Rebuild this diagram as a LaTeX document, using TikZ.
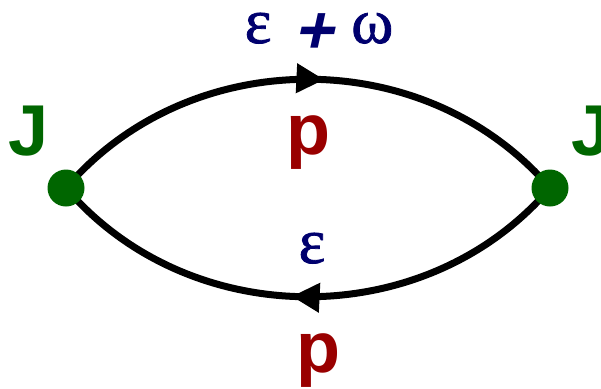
\documentclass[tikz,border=0pt]{standalone}
\usepackage{fontspec}
\setmainfont{Liberation Sans}
\newfontfamily\greekfont[FakeBold=1.2]{Liberation Serif}
\newfontfamily\plusfont[FakeSlant=0.22]{Liberation Sans Bold}
\usetikzlibrary{arrows.meta,decorations.markings}
\definecolor{jgreen}{RGB}{0,102,0}
\definecolor{navyb}{RGB}{0,0,110}
\definecolor{pred}{RGB}{153,0,0}
\tikzset{
  prop/.style={line width=7pt,
    postaction={decorate},
    decoration={markings,mark=at position 0.53 with {\arrow{Triangle[length=28pt,width=28pt]}}}},
  vertex/.style={circle,fill=jgreen,minimum size=37pt,inner sep=0pt},
  jlab/.style={text=jgreen,font=\fontsize{72}{72}\selectfont\bfseries,anchor=base,inner sep=0pt},
  plab/.style={text=pred,font=\fontsize{72}{72}\selectfont\bfseries,anchor=base,inner sep=0pt},
  elab/.style={text=navyb,font=\fontsize{64}{64}\selectfont\greekfont,anchor=base,inner sep=0pt,
    text height=31pt,text depth=1pt}
}
\begin{document}
\begin{tikzpicture}[x=1pt,y=-1pt]
\useasboundingbox (0,0) rectangle (601,388);
\coordinate (L) at (66,188);
\coordinate (R) at (550,188);
\draw[prop] (L) .. controls (190,43) and (426,43) .. (R);
\draw[prop] (R) .. controls (426,333) and (190,333) .. (L);
\node[vertex] (vl) at (L) {};
\node[vertex] (vr) at (R) {};
\node[jlab] (jl) at (29,155) {J};
\node[jlab] (jr) at (592,155) {J};
\node[plab] (pt) at (308,154) {p};
\node[plab] (pb) at (318,372) {p};
\node[elab] (et) at (319,43) {ε\hspace{22pt}\raisebox{-10pt}{\fontsize{68}{68}\selectfont\plusfont +}\hspace{18pt}ω};
\node[elab] (eb) at (312,263) {ε};
\end{tikzpicture}
\end{document}
